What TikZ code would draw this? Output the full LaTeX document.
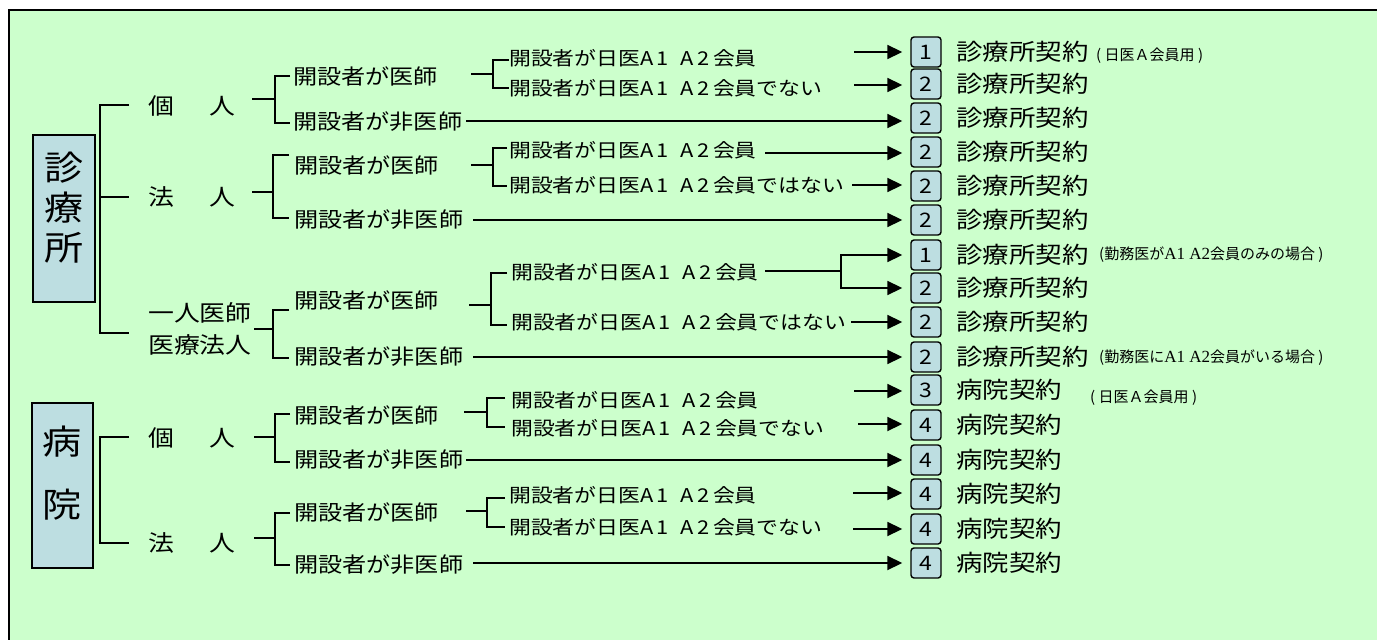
\documentclass[tikz,border=0pt]{standalone}
\usepackage{fontspec}
\newfontfamily\jp[FakeStretch=1.15]{Noto Sans CJK JP}
\newfontfamily\jpn{Noto Sans CJK JP}
\newfontfamily\tms{Liberation Serif}
\usetikzlibrary{arrows.meta}
\definecolor{bggreen}{RGB}{204,255,204}
\definecolor{boxblue}{RGB}{189,222,225}
\newcommand\aonetwo{A\kern3pt 1 \kern7pt A\kern4pt 2\kern3pt}
\tikzset{
  ln/.style={line width=1.7pt},
  arr/.style={line width=1.8pt,-{Triangle[length=15pt,width=14pt]}, shorten >=8pt},
  catbox/.style={draw=black, line width=2pt, fill=boxblue, inner sep=0pt},
  bigtxt/.style={inner sep=0pt, align=center},
  numbox/.style={draw=black, line width=1.4pt, rounded corners=3pt, fill=boxblue,
     minimum width=30pt, minimum height=30pt, inner sep=0pt, font={\jp\fontsize{20}{20}\selectfont}},
  lone/.style={anchor=west, inner sep=0pt, font={\jp\fontsize{22.5}{32}\selectfont}, align=left},
  ltwo/.style={anchor=west, inner sep=0pt, font={\jp\fontsize{21}{21}\selectfont}},
  lthree/.style={anchor=west, inner sep=0pt, font={\jp\fontsize{19}{19}\selectfont}},
  contract/.style={anchor=west, inner sep=0pt, font={\jp\fontsize{23}{23}\selectfont}},
  note/.style={anchor=west, inner sep=0pt, font={\jpn\fontsize{15}{15}\selectfont}},
}
\begin{document}
\begin{tikzpicture}[x=1pt,y=-1pt]
\useasboundingbox (0,0) rectangle (1377,640);
\fill[white] (0,0) rectangle (1377,640);
\draw[line width=2.2pt, fill=bggreen] (9,10) rectangle (1395,660);

% category boxes
\node[catbox, minimum width=62pt, minimum height=167pt] (sbox) at (64,218.5) {};
\node[bigtxt, font={\jp\fontsize{34}{40}\selectfont}] (stxt) at (64,208) {診\\療\\所};
\node[catbox, minimum width=61pt, minimum height=165pt] (hbox) at (62.5,485.5) {};
\node[bigtxt, font={\jp\fontsize{34}{63}\selectfont}] (htxt) at (62.5,473) {病\\院};

% level 1
\node[lone] (k1) at (148,106) {個　\kern10pt 人};
\node[lone] (h1) at (148,197) {法　\kern10pt 人};
\node[lone] (ic) at (148,329) {一人医師\\医療法人};
\node[lone] (k2) at (148,438) {個　\kern10pt 人};
\node[lone] (h2) at (148,543) {法　\kern10pt 人};

% level 2
\node[ltwo] (d1) at (293,76) {開設者が医師};
\node[ltwo] (n1) at (293,122) {開設者が非医師};
\node[ltwo] (d2) at (294,165) {開設者が医師};
\node[ltwo] (n2) at (294,220) {開設者が非医師};
\node[ltwo] (d3) at (294,300) {開設者が医師};
\node[ltwo] (n3) at (294,357) {開設者が非医師};
\node[ltwo] (d4) at (294,415) {開設者が医師};
\node[ltwo] (n4) at (294,460) {開設者が非医師};
\node[ltwo] (d5) at (294,512) {開設者が医師};
\node[ltwo] (n5) at (294,565) {開設者が非医師};

% level 3
\node[lthree] (m1) at (509,58) {開設者が日医\aonetwo 会員};
\node[lthree] (m2) at (509,88) {開設者が日医\aonetwo 会員でない};
\node[lthree] (m3) at (509,150) {開設者が日医\aonetwo 会員};
\node[lthree] (m4) at (509,185) {開設者が日医\aonetwo 会員ではない};
\node[lthree] (m5) at (511,272) {開設者が日医\aonetwo 会員};
\node[lthree] (m6) at (511,322) {開設者が日医\aonetwo 会員ではない};
\node[lthree] (m7) at (511,400) {開設者が日医\aonetwo 会員};
\node[lthree] (m8) at (511,428) {開設者が日医\aonetwo 会員でない};
\node[lthree] (m9) at (509,495) {開設者が日医\aonetwo 会員};
\node[lthree] (m10) at (509,527) {開設者が日医\aonetwo 会員でない};

% number boxes and contract labels
\foreach \i/\y/\n/\t in {1/52/1/診療所契約, 2/84/2/診療所契約, 3/118/2/診療所契約,
  4/152/2/診療所契約, 5/186/2/診療所契約, 6/220/2/診療所契約, 7/255/1/診療所契約,
  8/288/2/診療所契約, 9/322/2/診療所契約, 10/357/2/診療所契約, 11/390/3/病院契約,
  12/425/4/病院契約, 13/460/4/病院契約, 14/494/4/病院契約, 15/529/4/病院契約, 16/563/4/病院契約}{
  \node[numbox] (b\i) at (926,\y) {\n};
  \node[contract] (c\i) at (956,\y) {\t};
}
\node[note] (o1) at (1096,56) {( 日医Ａ会員用 )};
\node[note] (o7) at (1099,255) {(勤務医が{\tms\fontsize{17}{17}\selectfont A1 A2}会員のみの場合 )};
\node[note] (o10) at (1099,358) {(勤務医に{\tms\fontsize{17}{17}\selectfont A1 A2}会員がいる場合 )};
\node[note] (o11) at (1090,398) {( 日医Ａ会員用 )};

% trunks
\draw[ln] (129,105) -- (100,105) -- (100,333) -- (129,333);
\draw[ln] (100,197) -- (129,197);
\draw[ln] (129,437) -- (100,437) -- (100,543) -- (129,543);

% level1 -> level2 brackets
\draw[ln] (252,99) -- (275,99);
\draw[ln] (290,76) -- (275,76) -- (275,123) -- (290,123);
\draw[ln] (252,192) -- (273,192);
\draw[ln] (289,155) -- (273,155) -- (273,218) -- (289,218);
\draw[ln] (254,329) -- (273,329);
\draw[ln] (289,310) -- (273,310) -- (273,358) -- (289,358);
\draw[ln] (254,437) -- (275,437);
\draw[ln] (290,414) -- (275,414) -- (275,462) -- (290,462);
\draw[ln] (254,538) -- (275,538);
\draw[ln] (290,513) -- (275,513) -- (275,565) -- (290,565);

% level2 -> level3 brackets
\draw[ln] (471,74) -- (493,74);
\draw[ln] (509,60) -- (493,60) -- (493,88) -- (509,88);
\draw[ln] (471,165) -- (493,165);
\draw[ln] (507,148) -- (493,148) -- (493,186) -- (507,186);
\draw[ln] (469,305) -- (491,305);
\draw[ln] (507,273) -- (491,273) -- (491,325) -- (507,325);
\draw[ln] (464,412) -- (487,412);
\draw[ln] (505,398) -- (487,398) -- (487,427) -- (505,427);
\draw[ln] (466,511) -- (487,511);
\draw[ln] (505,498) -- (487,498) -- (487,527) -- (505,527);

% arrow start points
\coordinate (s1) at (854,52);
\coordinate (s2) at (854,85);
\coordinate (s3) at (466,121);
\coordinate (s4) at (765,153);
\coordinate (s5) at (852,185);
\coordinate (s6) at (473,220);
\coordinate (s7) at (765,271);
\coordinate (j7) at (841,271);
\coordinate (s9) at (851,322);
\coordinate (s10) at (473,357);
\coordinate (s11) at (854,391);
\coordinate (s12) at (858,424);
\coordinate (s13) at (466,460);
\coordinate (s14) at (853,493);
\coordinate (s15) at (853,529);
\coordinate (s16) at (473,563);

\foreach \s/\b in {s1/b1, s2/b2, s3/b3, s4/b4, s5/b5, s6/b6, s9/b9, s10/b10,
   s11/b11, s12/b12, s13/b13, s14/b14, s15/b15, s16/b16}{
  \draw[arr] (\s) -- (\s -| \b.west);
}
\draw[ln] (s7) -- (j7);
\draw[arr] (j7) |- (b7.west);
\draw[arr] (j7) |- (b8.west);
\end{tikzpicture}
\end{document}
